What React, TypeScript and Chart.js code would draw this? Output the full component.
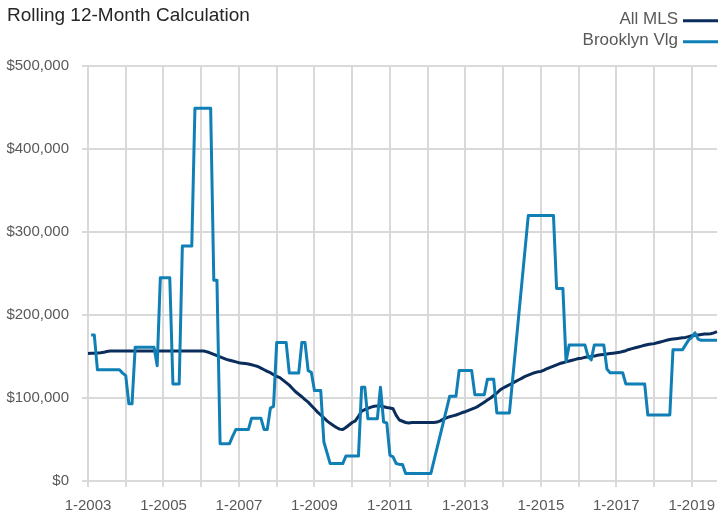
import React, { useEffect, useRef } from "react";
import { Chart, registerables } from "chart.js";

Chart.register(...registerables);

const TITLE = "Rolling 12-Month Calculation";
const START_YEAR = 2003;
const MONTH_COUNT = 201;

const SERIES_NAMES = ["All MLS", "Brooklyn Vlg"];
const SERIES_COLORS = ["#0b2d5c", "#0f7fb6"];

const Y_TICKS = [0, 100000, 200000, 300000, 400000, 500000];

// Jan-2003 ... Sep-2019
const CATEGORIES: string[] = [];
for (let i = 0; i < MONTH_COUNT; i++) {
  CATEGORIES.push(`${(i % 12) + 1}-${START_YEAR + Math.floor(i / 12)}`);
}

const ALL_MLS = [
  153500, 153800, 154000, 154200, 154500, 155000, 156000, 156500, 156500, 156500,
  156500, 156500, 156500, 156500, 156500, 156500, 156500, 156500, 156500, 156500,
  156500, 156500, 156500, 156500, 156500, 156500, 156500, 156500, 156500, 156500,
  156500, 156500, 156500, 156500, 156500, 156500, 156500, 156500, 155500, 154000,
  152500, 151000, 149500, 148000, 146500, 145500, 144500, 143500, 142500, 142000,
  141500, 141000, 140000, 139000, 138000, 136000, 134000, 132000, 130500, 128000,
  126000, 124500, 121500, 118500, 115500, 111500, 107500, 104500, 101500, 98000,
  95000, 91000, 87000, 83000, 79500, 76000, 72500, 69500, 67000, 64500,
  62500, 62000, 64500, 67500, 70500, 72500, 78000, 84000, 86000, 87500,
  89000, 90000, 90500, 90500, 89500, 88500, 88000, 87000, 79000, 73500,
  72000, 70500, 70000, 70500, 70500, 70500, 70500, 70500, 70500, 70500,
  70500, 71000, 72500, 74500, 76000, 77500, 78500, 79500, 81000, 82500,
  83500, 85000, 86500, 88000, 90000, 92500, 95000, 97500, 100000, 103000,
  106000, 109500, 112000, 114000, 116000, 118000, 120000, 122000, 124000, 126000,
  127500, 129000, 130500, 131500, 132000, 133500, 135500, 137000, 138500, 140000,
  141500, 142500, 143500, 144500, 145500, 146500, 147500, 148000, 149000, 149500,
  150000, 150500, 151500, 152000, 152500, 153000, 153500, 154000, 154500, 155000,
  156000, 157000, 158500, 159500, 160500, 161500, 162500, 163500, 164500, 165000,
  165500, 166500, 167500, 168500, 169500, 170500, 171000, 171500, 172000, 172500,
  173000, 174000, 175000, 175500, 176000, 176500, 177000, 177000, 177500, 178500,
  180000,
];

const BROOKLYN_VLG = [
  null, 176000, 176000, 134000, 134000, 134000, 134000, 134000, 134000, 134000,
  134000, 130000, 127000, 93000, 93000, 161000, 161000, 161000, 161000, 161000,
  161000, 161000, 139000, 245000, 245000, 245000, 245000, 117000, 117000, 117000,
  283000, 283000, 283000, 283000, 449000, 449000, 449000, 449000, 449000, 449000,
  242000, 242000, 45000, 45000, 45000, 45000, 54000, 62000, 62000, 62000,
  62000, 62000, 75500, 75500, 75500, 75500, 62000, 62000, 88000, 90000,
  167000, 167000, 167000, 167000, 130000, 130000, 130000, 130000, 167000, 167000,
  133000, 131000, 109000, 109000, 109000, 47000, 34000, 21000, 21000, 21000,
  21000, 21000, 30000, 30000, 30000, 30000, 30000, 113000, 113000, 75000,
  75000, 75000, 75000, 113000, 71000, 70000, 31000, 29000, 21000, 20000,
  20000, 9000, 9000, 9000, 9000, 9000, 9000, 9000, 9000, 9000,
  null, null, null, null, null, 102000, 102000, 102000, 133000, 133000,
  133000, 133000, 133000, 104000, 104000, 104000, 104000, 122500, 122500, 122500,
  82000, 82000, 82000, 82000, 82000, null, null, null, null, null,
  320000, 320000, 320000, 320000, 320000, 320000, 320000, 320000, 320000, 232000,
  232000, 232000, 144000, 164000, 164000, 164000, 164000, 164000, 164000, 150000,
  146000, 164000, 164000, 164000, 164000, 135000, 130500, 130500, 130500, 130500,
  130500, 117000, 117000, 117000, 117000, 117000, 117000, 117000, 79500, 79500,
  79500, 79500, 79500, 79500, 79500, 79500, 158000, 158000, 158000, 158000,
  164000, 170000, 173000, 178500, 171000, 169500, 169500, 169500, 169500, 169500,
  169500,
];

const FONT = '"Liberation Sans", Arial, Helvetica, sans-serif';

const overlayPlugin = {
  id: "overlayText",
  afterDraw(chart: any) {
    const ctx = chart.ctx as CanvasRenderingContext2D;
    ctx.save();
    ctx.font = `19px ${FONT}`;
    ctx.fillStyle = "#262626";
    ctx.textAlign = "left";
    ctx.textBaseline = "alphabetic";
    ctx.fillText(TITLE, 7, 20.5);

    ctx.font = `17px ${FONT}`;
    ctx.textAlign = "right";
    SERIES_NAMES.forEach((name, k) => {
      const base = 24 + k * 21;
      ctx.fillStyle = "#595959";
      ctx.fillText(name, 678, base);
      ctx.strokeStyle = SERIES_COLORS[k];
      ctx.lineWidth = 3;
      ctx.beginPath();
      ctx.moveTo(683, base - 3.3);
      ctx.lineTo(718, base - 3.3);
      ctx.stroke();
    });
    ctx.restore();
  },
};

export default function App() {
  const ref = useRef<HTMLCanvasElement | null>(null);

  useEffect(() => {
    if (!ref.current) return;
    Chart.defaults.font.family = FONT;
    const chart = new Chart(ref.current, {
      type: "line",
      data: {
        labels: CATEGORIES,
        datasets: [
          {
            label: SERIES_NAMES[0],
            data: ALL_MLS,
            borderColor: SERIES_COLORS[0],
            backgroundColor: SERIES_COLORS[0],
            borderWidth: 3,
            pointRadius: 0,
            tension: 0,
            borderJoinStyle: "round",
            order: 1,
          },
          {
            label: SERIES_NAMES[1],
            data: BROOKLYN_VLG,
            borderColor: SERIES_COLORS[1],
            backgroundColor: SERIES_COLORS[1],
            borderWidth: 3,
            pointRadius: 0,
            tension: 0,
            spanGaps: true,
            borderJoinStyle: "round",
            order: 0,
          },
        ],
      },
      options: {
        responsive: false,
        animation: false,
        devicePixelRatio: 1,
        layout: { padding: { top: 66, right: 1, left: 0, bottom: 0 } },
        plugins: {
          legend: { display: false },
          title: { display: false },
          tooltip: { enabled: false },
        },
        scales: {
          x: {
            type: "category",
            afterBuildTicks: (scale: any) => {
              scale.ticks = scale.ticks.filter((t: any) => t.value % 12 === 0);
            },
            afterFit: (scale: any) => {
              scale.height = 34;
              scale.paddingLeft = 0;
              scale.paddingRight = 0;
            },
            ticks: {
              autoSkip: false,
              maxRotation: 0,
              minRotation: 0,
              padding: 10,
              color: "#595959",
              font: { size: 15, family: FONT },
              callback: function (this: any, value: any) {
                const v = Number(value);
                return v % 24 === 0 ? CATEGORIES[v] : "";
              },
            },
            grid: {
              color: "#d9d9d9",
              lineWidth: 2,
              tickLength: 6,
              drawTicks: true,
            },
            border: { display: false },
          },
          y: {
            min: Y_TICKS[0],
            max: Y_TICKS[Y_TICKS.length - 1],
            afterFit: (scale: any) => {
              scale.width = 88;
            },
            ticks: {
              stepSize: Y_TICKS[1] - Y_TICKS[0],
              padding: 13,
              color: "#595959",
              font: { size: 15, family: FONT },
              callback: (value: any) => "$" + Number(value).toLocaleString("en-US"),
            },
            grid: {
              color: "#d9d9d9",
              lineWidth: 2,
              tickLength: 6,
              drawTicks: true,
            },
            border: { display: false },
          },
        },
      },
      plugins: [overlayPlugin],
    });
    return () => chart.destroy();
  }, []);

  return (
    <div style={{ position: "absolute", left: 0, top: 0, width: 718, height: 515, background: "#fff" }}>
      <canvas ref={ref} width={718} height={515} style={{ display: "block", width: 718, height: 515 }} />
    </div>
  );
}
